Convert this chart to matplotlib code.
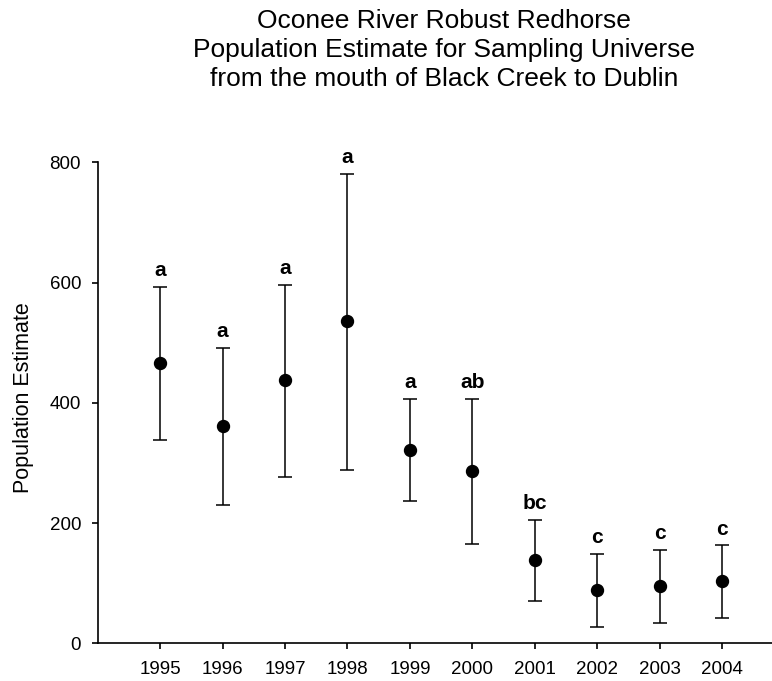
import matplotlib
matplotlib.use("Agg")
import matplotlib.pyplot as plt

plt.rcParams['font.family'] = ['Liberation Sans', 'DejaVu Sans']

years = [1995, 1996, 1997, 1998, 1999, 2000, 2001, 2002, 2003, 2004]
estimate = [466, 362, 438, 536, 322, 287, 139, 89, 96, 104]
upper = [593, 492, 597, 781, 406, 407, 205, 149, 156, 163]
lower = [338, 231, 277, 289, 237, 166, 70, 27, 34, 43]
letters = ['a', 'a', 'a', 'a', 'a', 'ab', 'bc', 'c', 'c', 'c']
yticks = [0, 200, 400, 600, 800]
title_lines = ['Oconee River Robust Redhorse',
               'Population Estimate for Sampling Universe',
               'from the mouth of Black Creek to Dublin']

fig = plt.figure(figsize=(7.72, 6.81), dpi=100)
ax = fig.add_axes([0.1266, 0.0551, 0.8734, 0.7063])

yerr = [[e - l for e, l in zip(estimate, lower)], [u - e for u, e in zip(upper, estimate)]]
ax.errorbar(years, estimate, yerr=yerr, fmt='o', color='black', ecolor='black',
            markersize=8.6, capsize=5.3, elinewidth=1.1, capthick=1.1, zorder=3)

for x, u, t in zip(years, upper, letters):
    ax.annotate(t, (x, u), xytext=(0, 5), textcoords='offset points',
                ha='center', va='bottom', fontsize=15, fontweight='bold', annotation_clip=False)

ax.set_xlim(1994, 2004.8)
ax.set_ylim(0, 800)
ax.set_xticks(years)
ax.set_xticklabels([str(y) for y in years])
ax.set_yticks(yticks)
ax.spines['top'].set_visible(False)
ax.spines['right'].set_visible(False)
for s in ['left', 'bottom']:
    ax.spines[s].set_linewidth(1.2)
ax.tick_params(axis='both', direction='out', length=4.5, width=1.2, labelsize=13.5)
ax.tick_params(axis='y', pad=7.5)
ax.tick_params(axis='x', pad=8)

fig.text(0.031, 0.4156, 'Population Estimate', rotation=90, ha='center', va='center', fontsize=15.5)

for ypix, line in zip([28, 57, 86], title_lines):
    fig.text(0.575, 1 - ypix / 681, line, ha='center', va='baseline', fontsize=19)

fig.savefig('out.png', dpi=100)
